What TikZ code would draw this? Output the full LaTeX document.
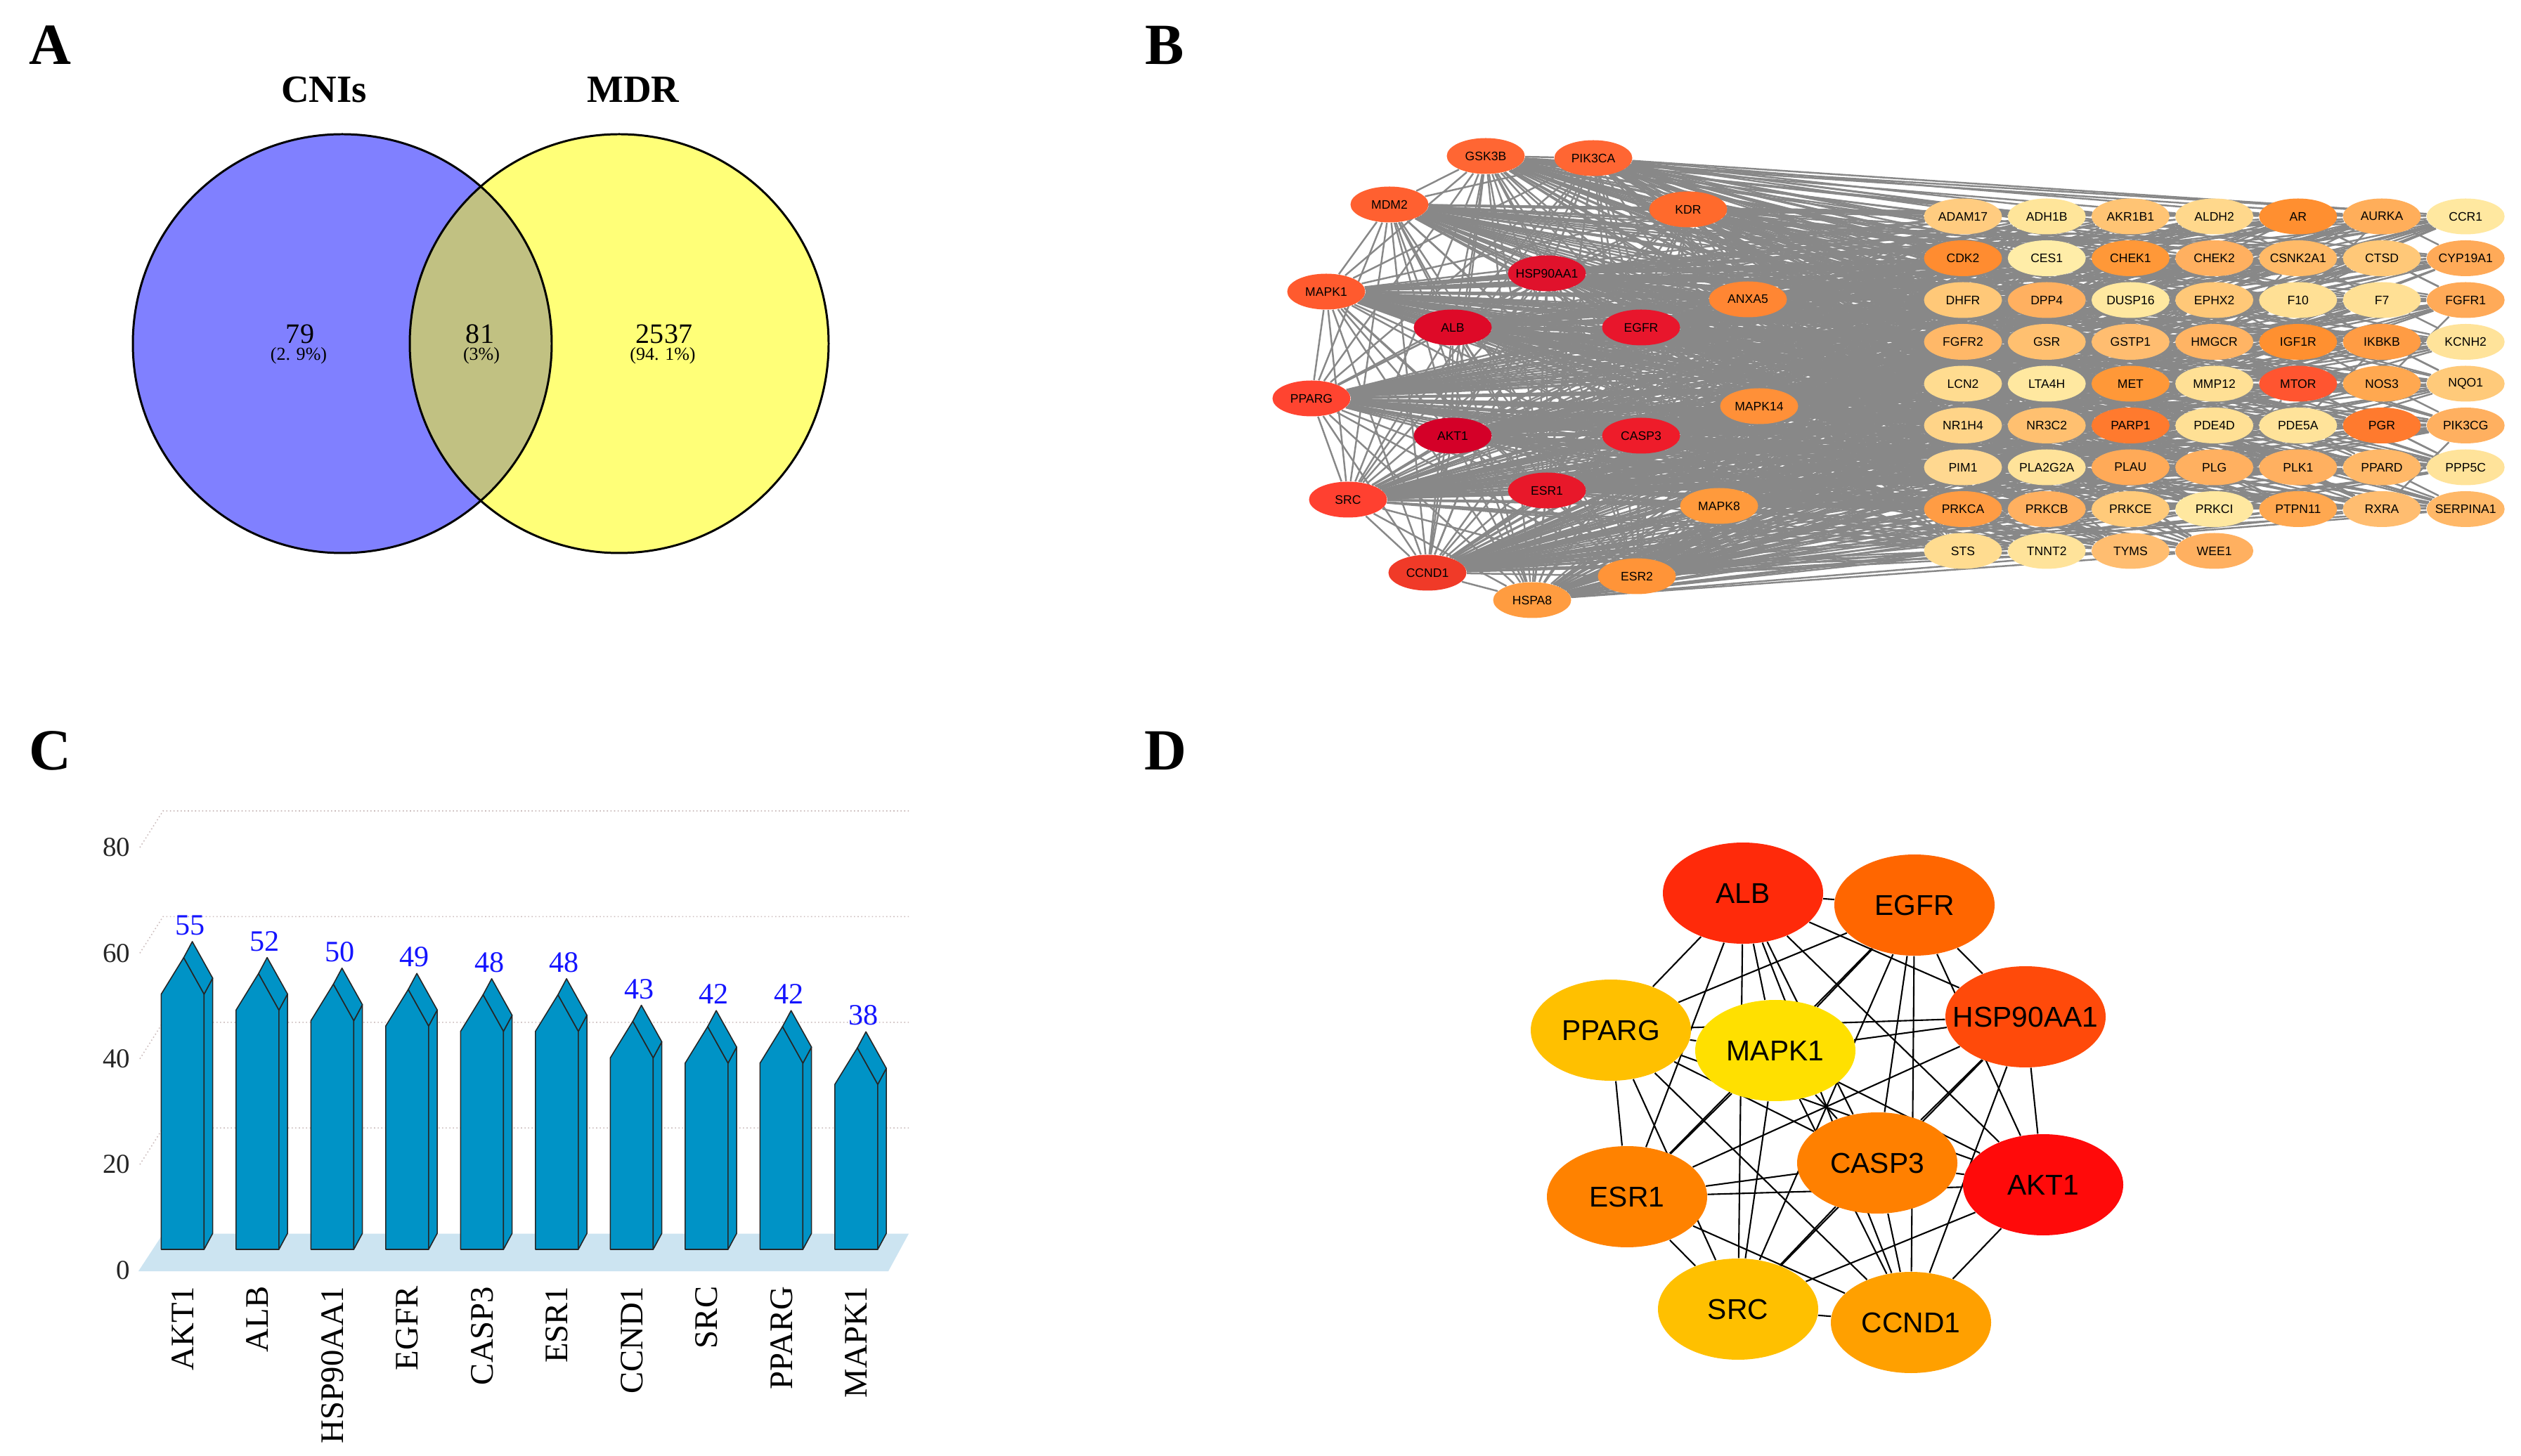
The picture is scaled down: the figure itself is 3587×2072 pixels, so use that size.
\documentclass[tikz,border=0pt]{standalone}
\usepackage{fontspec}
\setmainfont{Liberation Serif}
\setsansfont{Liberation Sans}
\usetikzlibrary{shapes.geometric}

\pgfdeclarelayer{paper}
\pgfdeclarelayer{edges}
\pgfsetlayers{paper,edges,main}

\definecolor{vennL}{HTML}{8080FF}
\definecolor{vennR}{HTML}{FFFF78}
\definecolor{vennM}{HTML}{C1C182}
\definecolor{edgegray}{HTML}{888888}
\definecolor{barblue}{HTML}{0093C6}
\definecolor{floorblue}{HTML}{CCE4F1}
\definecolor{dotgray}{HTML}{CCBDBD}
\definecolor{valblue}{HTML}{1414FF}

% panel B: hub cluster (name/x/y/colour)
\def\leftnodes{AKT1/2067/620/D40028, ALB/2067/466/DE0A28, HSP90AA1/2201/389/E0122C,
  EGFR/2335/466/E8162C, CASP3/2335/620/EE1C2A, ESR1/2201/698/E8182A,
  CCND1/2031/815/F03A28, SRC/1918/711/FF4030, PPARG/1866/567/FF4430,
  MAPK1/1887/415/FF5A2E, GSK3B/2114/222/FF6633, PIK3CA/2267/225/FF6633,
  MDM2/1977/291/FF6030, KDR/2402/298/FF6A2C, ANXA5/2487/426/FF8633,
  MAPK14/2503/578/FF9038, MAPK8/2446/720/FF9A3C, ESR2/2329/820/FF9438,
  HSPA8/2180/854/FF9C40}

% panel B: grid, row by row (name/colour)
\def\gridnodes{ADAM17/FFCC80, ADH1B/FFE59A, AKR1B1/FFC474, ALDH2/FFD88C, AR/FF8F30, AURKA/FFAE5A, CCR1/FFE8A0,
  CDK2/FF8C30, CES1/FFEDA8, CHEK1/FF9838, CHEK2/FFB060, CSNK2A1/FFBA68, CTSD/FFC878, CYP19A1/FFAA58,
  DHFR/FFC878, DPP4/FFB060, DUSP16/FFE8A0, EPHX2/FFC878, F10/FFE095, F7/FFE095, FGFR1/FFAA58,
  FGFR2/FFB868, GSR/FFC070, GSTP1/FFBD70, HMGCR/FFB464, IGF1R/FF9030, IKBKB/FF9C44, KCNH2/FFE39A,
  LCN2/FFDC90, LTA4H/FFE8A0, MET/FF9838, MMP12/FFE095, MTOR/FF5530, NOS3/FFA850, NQO1/FFCA7A,
  NR1H4/FFD488, NR3C2/FFC070, PARP1/FF7A2E, PDE4D/FFE095, PDE5A/FFE39A, PGR/FF7A2E, PIK3CG/FFB060,
  PIM1/FFD890, PLA2G2A/FFE39A, PLAU/FFAA58, PLG/FFB060, PLK1/FFB060, PPARD/FFB868, PPP5C/FFE39A,
  PRKCA/FF9C44, PRKCB/FFB060, PRKCE/FFCA7A, PRKCI/FFE8A0, PTPN11/FFA850, RXRA/FFBD70, SERPINA1/FFB868,
  STS/FFDC90, TNNT2/FFE39A, TYMS/FFBD70, WEE1/FFB060}

% panel D: top ten
\def\topnodes{ALB/2480/1271/FF2A0A, EGFR/2724/1288/FF6600, HSP90AA1/2882/1447/FF4A0A,
  PPARG/2292/1466/FFC000, MAPK1/2526/1495/FFE000, CASP3/2671/1655/FF8000,
  AKT1/2907/1686/FF0A0A, ESR1/2315/1703/FF8200, SRC/2473/1863/FFC000,
  CCND1/2719/1882/FFA000}

\begin{document}
\begin{tikzpicture}[x=0.1mm, y=-0.1mm,
  panel/.style={font=\bfseries\fontsize{23.6}{28}\selectfont, inner sep=0pt, anchor=base},
  venntitle/.style={font=\bfseries\fontsize{15.6}{18}\selectfont, inner sep=0pt},
  vnum/.style={font=\fontsize{11.4}{13}\selectfont, inner sep=0pt},
  vpct/.style={font=\fontsize{7.4}{9}\selectfont, inner sep=0pt},
  gene/.style={ellipse, inner xsep=-2mm, inner ysep=0pt, minimum width=11.1mm,
    minimum height=5.1mm, font=\sffamily\fontsize{5}{6}\selectfont},
  bedge/.style={edgegray, line width=0.7pt},
  hub/.style={ellipse, inner xsep=-4mm, inner ysep=0pt, minimum width=22.8mm,
    minimum height=14.4mm, font=\sffamily\fontsize{11.6}{14}\selectfont},
  dedge/.style={black, line width=0.6pt},
  barface/.style={fill=barblue, draw=black!85, line width=0.45pt, line join=round},
  griddot/.style={dotgray, densely dotted, line width=0.45pt},
  axlab/.style={font=\fontsize{11.1}{13}\selectfont, inner sep=0pt, anchor=east, text=black!85},
  vallab/.style={font=\fontsize{12}{14}\selectfont, inner sep=0pt, text=valblue},
  catlab/.style={font=\fontsize{13.3}{16}\selectfont, inner sep=0pt, rotate=90, anchor=east}]

\useasboundingbox (0,0) rectangle (3587,2072);
\begin{pgfonlayer}{paper}
  \fill[white] (0,0) rectangle (3587,2072);
\end{pgfonlayer}

% panel letters
\node[panel] (la) at (71.5,92)   {A};
\node[panel] (lb) at (1657.5,92) {B};
\node[panel] (lc) at (71.5,1096) {C};
\node[panel] (ld) at (1658.5,1096) {D};

% A: venn
\fill[vennL] (487,489) circle[radius=29.8mm];
\fill[vennR] (881,489) circle[radius=29.8mm];
\begin{scope}
  \clip (487,489) circle[radius=29.8mm];
  \fill[vennM] (881,489) circle[radius=29.8mm];
\end{scope}
\draw[line width=0.85pt] (487,489) circle[radius=29.8mm];
\draw[line width=0.85pt] (881,489) circle[radius=29.8mm];

\node[venntitle] (cni) at (461,128) {CNIs};
\node[venntitle] (mdr) at (901,128) {MDR};
\node[vnum] (n79)  at (427,475) {79};
\node[vpct] (p79)  at (425,506) {(2. 9\%)};
\node[vnum] (n81)  at (683,475) {81};
\node[vpct] (p81)  at (685,506) {(3\%)};
\node[vnum] (n2537) at (945,475) {2537};
\node[vpct] (p2537) at (943,506) {(94. 1\%)};

% B: network
\foreach \nm/\x/\y/\col in \leftnodes {
  \definecolor{tmp}{HTML}{\col}
  \node[gene, fill=tmp] (b\nm) at (\x,\y) {\nm};
}
\foreach \nm/\col [count=\n] in \gridnodes {
  \definecolor{tmp}{HTML}{\col}
  \pgfmathsetmacro\gx{2793+119.2*mod(\n-1,7)}
  \pgfmathsetmacro\gy{308+59.5*floor((\n-1)/7)}
  \node[gene, fill=tmp, alias=g\n] (b\nm) at (\gx,\gy) {\nm};
}

\begin{pgfonlayer}{edges}
  \foreach \p/\px/\py/\pc [count=\i] in \leftnodes {
    \foreach \q/\qx/\qy/\qc [count=\j] in \leftnodes {
      \ifnum\j>\i \draw[bedge] (b\p) -- (b\q); \fi
    }
    \pgfmathtruncatemacro\lim{\i<11 ? 4 : 3}
    \foreach \q/\qc [count=\j] in \gridnodes {
      \pgfmathtruncatemacro\k{mod(3*\i+7*\j,5)}
      \ifnum\k<\lim\relax \draw[bedge] (b\p) -- (b\q); \fi
    }
  }
  \foreach \j in {1,...,60} {
    \pgfmathtruncatemacro\ka{\j+8}
    \pgfmathtruncatemacro\kb{\j+16}
    \pgfmathtruncatemacro\kc{\j+13}
    \pgfmathtruncatemacro\mt{mod(\j,3)}
    \ifnum\ka<61 \draw[bedge] (g\j) -- (g\ka); \fi
    \ifnum\kb<61 \ifodd\j \draw[bedge] (g\j) -- (g\kb); \fi \fi
    \ifnum\kc<61 \ifnum\mt=0 \draw[bedge] (g\j) -- (g\kc); \fi \fi
  }
\end{pgfonlayer}

% C: degree bars
\fill[floorblue] (197,1809) -- (1264,1809) -- (1293,1755.6) -- (232,1755.6) -- cycle;
\foreach \v in {20,40,60,80}
  \draw[griddot] (199,{1807.6-7.52*\v}) -- (232,{1755.6-7.52*\v}) -- (1293,{1755.6-7.52*\v});
\foreach \v in {0,20,40,60,80}
  \node[axlab] (ax\v) at (186,{1807.6-7.52*\v}) {\v};

\foreach \nm/\v [count=\i] in {AKT1/55, ALB/52, HSP90AA1/50, EGFR/49, CASP3/48,
    ESR1/48, CCND1/43, SRC/42, PPARG/42, MAPK1/38} {
  \pgfmathsetmacro\l{229.4+106.5*(\i-1)}
  \pgfmathsetmacro\r{\l+61}
  \pgfmathsetmacro\rr{\r+12.2}
  \pgfmathsetmacro\m{\l+32}
  \pgfmathsetmacro\mm{\m+12.2}
  \pgfmathsetmacro\t{1778-7.55*\v}
  \pgfmathsetmacro\tt{\t-22.8}
  \pgfmathsetmacro\s{\t+52}
  \pgfmathsetmacro\ss{\s-22.8}
  \draw[barface] (\l,1778) -- (\l,\s) -- (\m,\t) -- (\r,\s) -- (\r,1778) -- cycle;
  \draw[barface] (\r,1778) -- (\r,\s) -- (\rr,\ss) -- (\rr,1755.2) -- cycle;
  \draw[barface] (\m,\t) -- (\r,\s) -- (\rr,\ss) -- (\mm,\tt) -- cycle;
  \node[vallab] (val\i) at (\m+9,\t-46) {\v};
  \node[catlab] (cat\i) at (\l+30.5,1830) {\nm};
}

% D: top ten hub genes
\foreach \nm/\x/\y/\col in \topnodes {
  \definecolor{tmp}{HTML}{\col}
  \node[hub, fill=tmp] (d\nm) at (\x,\y) {\nm};
}
\begin{pgfonlayer}{edges}
  \foreach \p/\px/\py/\pc [count=\i] in \topnodes {
    \foreach \q/\qx/\qy/\qc [count=\j] in \topnodes {
      \ifnum\j>\i \draw[dedge] (d\p) -- (d\q); \fi
    }
  }
\end{pgfonlayer}

\end{tikzpicture}
\end{document}
